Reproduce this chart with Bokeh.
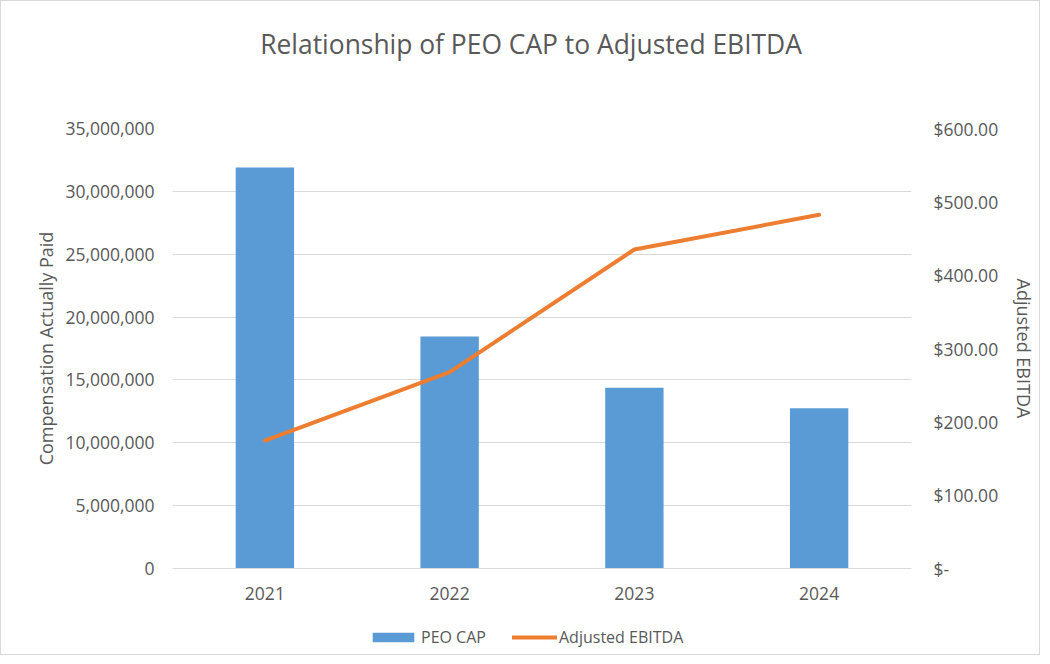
from bokeh.plotting import figure
from bokeh.layouts import column
from bokeh.models import (ColumnDataSource, FactorRange, Range1d, LinearAxis, FixedTicker, Label,
                          NumeralTickFormatter, CustomJSTickFormatter, Legend, LegendItem)
from bokeh.embed import file_html
from bokeh.resources import INLINE

years = ["2021", "2022", "2023", "2024"]
peo_cap = [31900000, 18450000, 14370000, 12750000]
adj_ebitda = [174.5, 267.7, 435.0, 482.3]
left_ticks = [0, 5000000, 10000000, 15000000, 20000000, 25000000, 30000000, 35000000]
right_ticks = [0, 100, 200, 300, 400, 500, 600]
title_text = "Relationship of PEO CAP to Adjusted EBITDA"

FONT = "Open Sans"
TXT = "#595959"
GRID = "#d9d9d9"
BLUE = "#5B9BD5"
ORANGE = "#ED7D31"
W = 1031
FW = 739

src = ColumnDataSource(dict(year=years, cap=peo_cap, ebitda=adj_ebitda))

# ---- title strip (its frame is aligned with the main chart's frame) ----
t = figure(width=W, height=115, x_range=Range1d(0, FW), y_range=Range1d(0, 115),
           x_axis_type=None, y_axis_type=None, min_border=0, output_backend="svg",
           toolbar_location=None)
t.outline_line_color = None
t.add_layout(Label(x=362, y=73, text=title_text, text_align="center", text_baseline="middle",
                   text_font=FONT, text_font_size="26.4px", text_color=TXT))

# ---- main chart ----
p = figure(frame_width=FW, frame_height=440, x_range=FactorRange(factors=years, range_padding=0),
           y_range=Range1d(0, 35000000), output_backend="svg", toolbar_location=None,
           min_border_left=171, min_border_right=121, min_border_top=12, min_border_bottom=44)
p.extra_y_ranges = {"e": Range1d(0, 600)}
p.outline_line_color = None

bars = p.vbar(x="year", top="cap", width=0.316, source=src, fill_color=BLUE, line_color=None)
line = p.line(x="year", y="ebitda", source=src, y_range_name="e", line_color=ORANGE,
              line_width=4, line_cap="round", line_join="round")

ya = p.yaxis[0]
ya.ticker = FixedTicker(ticks=left_ticks)
ya.formatter = NumeralTickFormatter(format="0,0")
ya.axis_line_color = None
ya.major_tick_line_color = None
ya.minor_tick_line_color = None
ya.major_tick_out = 0
ya.minor_tick_out = 0
ya.major_label_standoff = 18
ya.major_label_text_font = FONT
ya.major_label_text_font_size = "17.5px"
ya.major_label_text_color = TXT
ya.axis_label = "Compensation Actually Paid"
ya.axis_label_text_font = FONT
ya.axis_label_text_font_size = "18px"
ya.axis_label_text_font_style = "normal"
ya.axis_label_text_color = TXT
ya.axis_label_standoff = 4

ra = LinearAxis(y_range_name="e", ticker=FixedTicker(ticks=right_ticks),
                formatter=CustomJSTickFormatter(code="return tick == 0 ? '$-' : '$' + tick.toFixed(2);"))
ra.axis_line_color = None
ra.major_tick_line_color = None
ra.minor_tick_line_color = None
ra.major_tick_out = 0
ra.minor_tick_out = 0
ra.major_label_standoff = 22
ra.major_label_text_font = FONT
ra.major_label_text_font_size = "17.5px"
ra.major_label_text_color = TXT
ra.axis_label = "Adjusted EBITDA"
ra.axis_label_text_font = FONT
ra.axis_label_text_font_size = "18px"
ra.axis_label_text_font_style = "normal"
ra.axis_label_text_color = TXT
ra.axis_label_standoff = 11
p.add_layout(ra, "right")

xa = p.xaxis[0]
xa.axis_line_color = GRID
xa.major_tick_line_color = None
xa.minor_tick_line_color = None
xa.major_tick_out = 0
xa.minor_tick_out = 0
xa.major_label_standoff = 18
xa.major_label_text_font = FONT
xa.major_label_text_font_size = "17.5px"
xa.major_label_text_color = TXT

p.xgrid.grid_line_color = None
p.ygrid.grid_line_color = GRID
p.ygrid.ticker = FixedTicker(ticks=left_ticks)

# ---- legend strip (series glyphs lie outside its visible range) ----
lg = figure(width=W, height=42, x_range=FactorRange(factors=years), y_range=Range1d(40000000, 50000000),
            x_axis_type=None, y_axis_type=None, min_border=0, output_backend="svg",
            toolbar_location=None)
lg.outline_line_color = None
lb = lg.vbar(x="year", top="cap", width=0.316, source=src, fill_color=BLUE, line_color=None)
ll = lg.line(x="year", y="ebitda", source=src, line_color=ORANGE, line_width=4, line_cap="round")


def style_legend(leg, gw, gh):
    leg.orientation = "horizontal"
    leg.label_text_font = FONT
    leg.label_text_font_size = "16px"
    leg.label_text_color = TXT
    leg.glyph_width = gw
    leg.glyph_height = gh
    leg.label_standoff = 2
    leg.border_line_color = None
    leg.background_fill_alpha = 0
    leg.padding = 5
    leg.margin = 0


leg1 = Legend(items=[LegendItem(label="PEO CAP", renderers=[lb])], location=(195, 6))
style_legend(leg1, 52, 12)
leg2 = Legend(items=[LegendItem(label="Adjusted EBITDA", renderers=[ll])], location=(340, 6))
style_legend(leg2, 45, 12)
lg.add_layout(leg1, "center")
lg.add_layout(leg2, "center")

layout = column(t, p, lg, spacing=0)
layout.styles = {"border": "1px solid #d9d9d9", "background-color": "white"}

open("out.html", "w").write(file_html(layout, INLINE))
